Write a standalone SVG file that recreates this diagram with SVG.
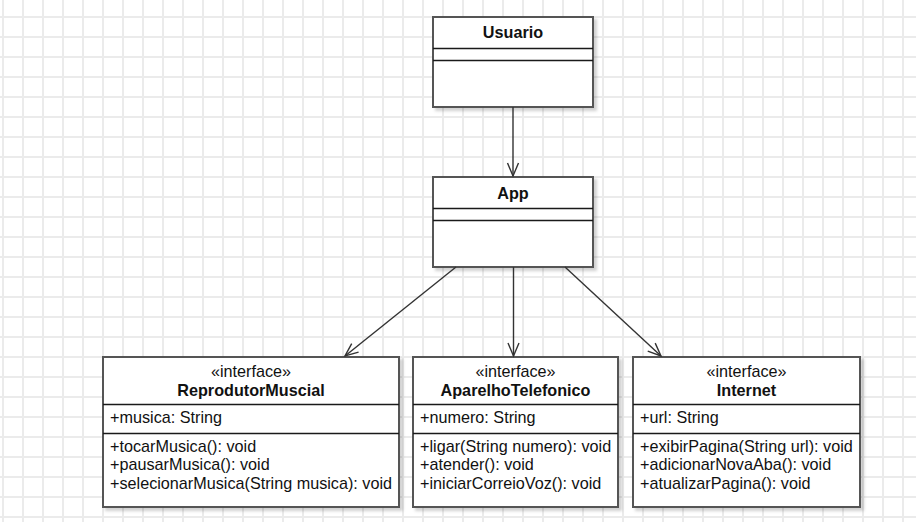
<svg xmlns="http://www.w3.org/2000/svg" width="916" height="522" viewBox="0 0 916 522">
<defs>
<pattern id="grid" x="2" y="16" width="20" height="20" patternUnits="userSpaceOnUse">
<rect x="0" y="0" width="20" height="20" fill="#ffffff"/>
<line x1="1" y1="0" x2="1" y2="20" stroke="#ebebeb" stroke-width="2"/>
<line x1="0" y1="1" x2="20" y2="1" stroke="#ebebeb" stroke-width="2"/>
</pattern>
<filter id="shadow" x="-5%" y="-5%" width="115%" height="120%">
<feDropShadow dx="3" dy="3" stdDeviation="1.5" flood-color="#000" flood-opacity="0.18"/>
</filter>
<marker id="open" markerUnits="userSpaceOnUse" markerWidth="20" markerHeight="20" viewBox="-16 -8 20 16" refX="0" refY="0" orient="auto">
<path d="M -13 -5.5 L 0 0 L -13 5.5" fill="none" stroke="#333333" stroke-width="1.4"/>
</marker>
</defs>
<style>
.box{fill:#ffffff;stroke:#555555;stroke-width:2;filter:url(#shadow)}
.sep{stroke:#1a1a1a;stroke-width:1.3}
text{font-family:"Liberation Sans",Arial,Helvetica,sans-serif;font-size:16.2px;fill:#111111}
.b{font-weight:bold;text-anchor:middle}
.st{text-anchor:middle}
.edge{stroke:#333333;stroke-width:1.4;fill:none;marker-end:url(#open)}
</style>
<rect x="0" y="0" width="916" height="522" fill="url(#grid)"/>

<g id="Usuario">
<rect class="box" x="433" y="17" width="160" height="90"/>
<line class="sep" x1="433" y1="48.5" x2="593" y2="48.5"/>
<line class="sep" x1="433" y1="60.5" x2="593" y2="60.5"/>
<text class="b" x="513" y="38">Usuario</text>
</g>

<g id="App">
<rect class="box" x="433" y="177" width="160" height="90"/>
<line class="sep" x1="433" y1="208.5" x2="593" y2="208.5"/>
<line class="sep" x1="433" y1="220.5" x2="593" y2="220.5"/>
<text class="b" x="513" y="198.5">App</text>
</g>

<g id="ReprodutorMuscial">
<rect class="box" x="103" y="357" width="296" height="150"/>
<line class="sep" x1="103" y1="404.5" x2="399" y2="404.5"/>
<line class="sep" x1="103" y1="433.5" x2="399" y2="433.5"/>
<text class="st" x="251" y="377">«interface»</text>
<text class="b" x="251" y="395.5">ReprodutorMuscial</text>
<text x="110" y="423">+musica: String</text>
<text x="110" y="451.5">+tocarMusica(): void</text>
<text x="110" y="470">+pausarMusica(): void</text>
<text x="110" y="488.5">+selecionarMusica(String musica): void</text>
</g>

<g id="AparelhoTelefonico">
<rect class="box" x="413" y="357" width="205" height="150"/>
<line class="sep" x1="413" y1="404.5" x2="618" y2="404.5"/>
<line class="sep" x1="413" y1="433.5" x2="618" y2="433.5"/>
<text class="st" x="515.5" y="377">«interface»</text>
<text class="b" x="515.5" y="395.5">AparelhoTelefonico</text>
<text x="420" y="423">+numero: String</text>
<text x="420" y="451.5">+ligar(String numero): void</text>
<text x="420" y="470">+atender(): void</text>
<text x="420" y="488.5">+iniciarCorreioVoz(): void</text>
</g>

<g id="Internet">
<rect class="box" x="633" y="357" width="227" height="150"/>
<line class="sep" x1="633" y1="404.5" x2="860" y2="404.5"/>
<line class="sep" x1="633" y1="433.5" x2="860" y2="433.5"/>
<text class="st" x="746.5" y="377">«interface»</text>
<text class="b" x="746.5" y="395.5">Internet</text>
<text x="640" y="423">+url: String</text>
<text x="640" y="451.5">+exibirPagina(String url): void</text>
<text x="640" y="470">+adicionarNovaAba(): void</text>
<text x="640" y="488.5">+atualizarPagina(): void</text>
</g>

<g id="connectors">
<line class="edge" x1="513" y1="107" x2="513" y2="176"/>
<line class="edge" x1="456" y1="267" x2="345" y2="356"/>
<line class="edge" x1="513.5" y1="267" x2="513.5" y2="356"/>
<line class="edge" x1="565" y1="267" x2="661" y2="356"/>
</g>
</svg>
